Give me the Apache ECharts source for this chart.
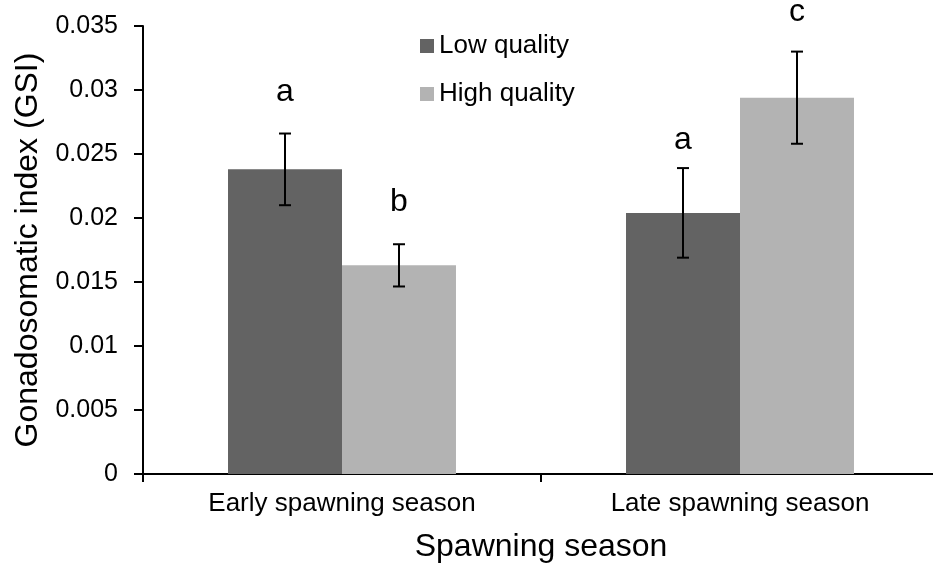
<!DOCTYPE html>
<html>
<head>
<meta charset="utf-8">
<script src="https://cdn.jsdelivr.net/npm/echarts@6/dist/echarts.min.js"></script>
<style>
html,body{margin:0;padding:0;background:#fff;overflow:hidden;width:933px;height:569px;}
#chart{width:939px;height:569px;}
</style>
</head>
<body>
<div id="chart"></div>
<script>
var categories = ['Early spawning season', 'Late spawning season'];
var seriesNames = ['Low quality', 'High quality'];
var lowMean = [0.0238, 0.0204];
var highMean = [0.0163, 0.0294];
var lowErr = [0.0028, 0.0035];
var highErr = [0.00165, 0.0036];
var lowLetters = ['a', 'a'];
var highLetters = ['b', 'c'];
var lowLetterY = [0.0298, 0.0261];
var highLetterY = [0.0212, 0.0361];
var yTickLabels = ['0', '0.005', '0.01', '0.015', '0.02', '0.025', '0.03', '0.035'];

var FONT = "'Liberation Sans', Arial, sans-serif";
var BAR_FRAC = 0.2864;

function errData(means, errs, letterY) {
  return means.map(function (m, i) { return [i, m, errs[i], letterY[i]]; });
}

function makeRender(side, letters) {
  return function (params, api) {
    var i = api.value(0);
    var m = api.value(1), e = api.value(2), ly = api.value(3);
    var band = api.size([1, 0])[0];
    var off = side * band * BAR_FRAC / 2;
    var top = api.coord([i, m + e]);
    var bot = api.coord([i, m - e]);
    var lp = api.coord([i, ly]);
    var x = top[0] + off;
    var cap = 6;
    var st = { stroke: '#000', lineWidth: 2 };
    return {
      type: 'group',
      children: [
        { type: 'line', shape: { x1: x, y1: top[1], x2: x, y2: bot[1] }, style: st },
        { type: 'line', shape: { x1: x - cap, y1: top[1], x2: x + cap, y2: top[1] }, style: st },
        { type: 'line', shape: { x1: x - cap, y1: bot[1], x2: x + cap, y2: bot[1] }, style: st },
        { type: 'text', x: x, y: lp[1], style: { text: letters[i], fill: '#000', font: '32px ' + FONT, align: 'center', verticalAlign: 'middle' } }
      ]
    };
  };
}

var chart = echarts.init(document.getElementById('chart'), null, { renderer: 'canvas' });
chart.setOption({
  backgroundColor: '#fff',
  animation: false,
  textStyle: { fontFamily: FONT },
  grid: { left: 143, right: 0, top: 26, bottom: 95, containLabel: false },
  legend: {
    data: seriesNames,
    orient: 'vertical',
    left: 420,
    top: 33,
    padding: 0,
    itemWidth: 14,
    itemHeight: 14,
    itemGap: 22,
    icon: 'rect',
    textStyle: { fontSize: 26, color: '#000', fontFamily: FONT }
  },
  xAxis: {
    type: 'category',
    data: categories,
    name: 'Spawning season',
    nameLocation: 'middle',
    nameGap: 57,
    nameTextStyle: { fontSize: 32, color: '#000', fontFamily: FONT },
    axisLine: { lineStyle: { color: '#000', width: 2 } },
    axisTick: { show: true, length: 8, alignWithLabel: false, lineStyle: { color: '#000', width: 2 } },
    axisLabel: { fontSize: 26, color: '#000', margin: 17, fontFamily: FONT }
  },
  yAxis: {
    type: 'value',
    min: 0,
    max: 0.035,
    interval: 0.005,
    name: 'Gonadosomatic index (GSI)',
    nameLocation: 'middle',
    nameGap: 97,
    nameTextStyle: { fontSize: 32, color: '#000', fontFamily: FONT },
    splitLine: { show: false },
    axisLine: { show: true, lineStyle: { color: '#000', width: 2 } },
    axisTick: { show: true, length: 9, lineStyle: { color: '#000', width: 2 } },
    axisLabel: {
      fontSize: 25, color: '#000', margin: 25, fontFamily: FONT,
      formatter: function (v) { return yTickLabels[Math.round(v / 0.005)]; }
    }
  },
  series: [
    { name: seriesNames[0], type: 'bar', data: lowMean, barWidth: (BAR_FRAC * 100) + '%', barGap: '0%', itemStyle: { color: '#636363' } },
    { name: seriesNames[1], type: 'bar', data: highMean, barWidth: (BAR_FRAC * 100) + '%', barGap: '0%', itemStyle: { color: '#b3b3b3' } },
    { type: 'custom', data: errData(lowMean, lowErr, lowLetterY), renderItem: makeRender(-1, lowLetters), clip: false, z: 5 },
    { type: 'custom', data: errData(highMean, highErr, highLetterY), renderItem: makeRender(1, highLetters), clip: false, z: 5 }
  ]
});
</script>
</body>
</html>
